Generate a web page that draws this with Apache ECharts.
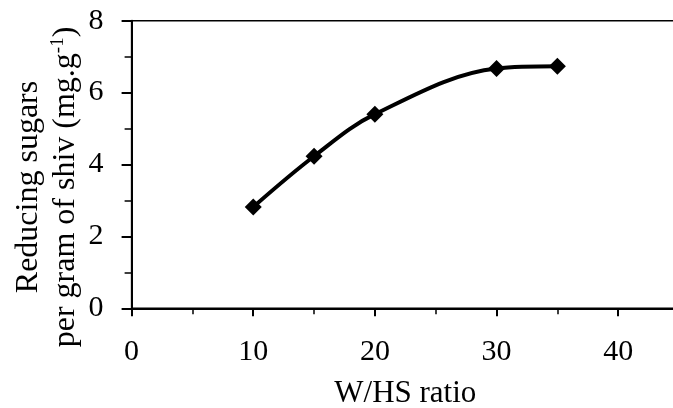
<!DOCTYPE html>
<html>
<head>
<meta charset="utf-8">
<script src="https://cdn.jsdelivr.net/npm/echarts@6/dist/echarts.min.js"></script>
<style>html,body{margin:0;padding:0;background:#fff}#c{width:673px;height:408px}</style>
</head>
<body>
<div id="c"></div>
<script>
var ratios = [10, 15, 20, 30, 35];
var sugars = [2.82, 4.23, 5.40, 6.67, 6.73];
var xTitle = 'W/HS ratio';
var yTitle1 = 'Reducing sugars';
var yTitle2 = 'per gram of shiv (mg.g';

var font = '"Liberation Serif","Times New Roman",serif';
var chart = echarts.init(document.getElementById('c'), null, {renderer: 'canvas'});
chart.setOption({
  animation: false,
  backgroundColor: '#fff',
  grid: {left: 131.6, top: 20.7, bottom: 99.7, right: -6, outerBoundsMode: 'none', containLabel: false,
         show: true, borderColor: '#000', borderWidth: 1.5, backgroundColor: 'transparent'},
  xAxis: {
    type: 'value', min: 0, max: 45, interval: 10,
    name: xTitle, nameLocation: 'middle', nameGap: 70,
    nameTextStyle: {fontFamily: font, fontSize: 31, color: '#000'},
    axisLine: {onZero: false, lineStyle: {color: '#000', width: 2}},
    axisTick: {length: 8, lineStyle: {color: '#000', width: 2}},
    minorTick: {show: true, splitNumber: 2, length: 6, lineStyle: {color: '#000', width: 1.5}},
    axisLabel: {fontFamily: font, fontSize: 30, color: '#000', margin: 29, showMaxLabel: false},
    splitLine: {show: false}
  },
  yAxis: {
    type: 'value', min: 0, max: 8, interval: 2,
    axisLine: {show: true, lineStyle: {color: '#000', width: 2}},
    axisTick: {show: true, length: 10, lineStyle: {color: '#000', width: 2}},
    minorTick: {show: true, splitNumber: 2, length: 7, lineStyle: {color: '#000', width: 1.5}},
    axisLabel: {fontFamily: font, fontSize: 30, color: '#000', margin: 28},
    splitLine: {show: false}
  },
  graphic: [{
    type: 'text', x: 47, y: 187, rotation: Math.PI / 2,
    style: {
      text: '{a|' + yTitle1 + '}\n{a|' + yTitle2 + '}{s|-1}{a|)}',
      align: 'center', verticalAlign: 'middle',
      rich: {
        a: {fontFamily: font, fontSize: 32, color: '#000', lineHeight: 37},
        s: {fontFamily: font, fontSize: 19, color: '#000', lineHeight: 37, padding: [0, 0, 15, 0]}
      }
    }
  }],
  series: [{
    type: 'line',
    data: ratios.map(function (r, i) { return [r, sugars[i]]; }),
    smooth: 0.35,
    symbol: 'diamond', symbolSize: 17,
    itemStyle: {color: '#000'},
    lineStyle: {color: '#000', width: 4}
  }]
});
</script>
</body>
</html>
